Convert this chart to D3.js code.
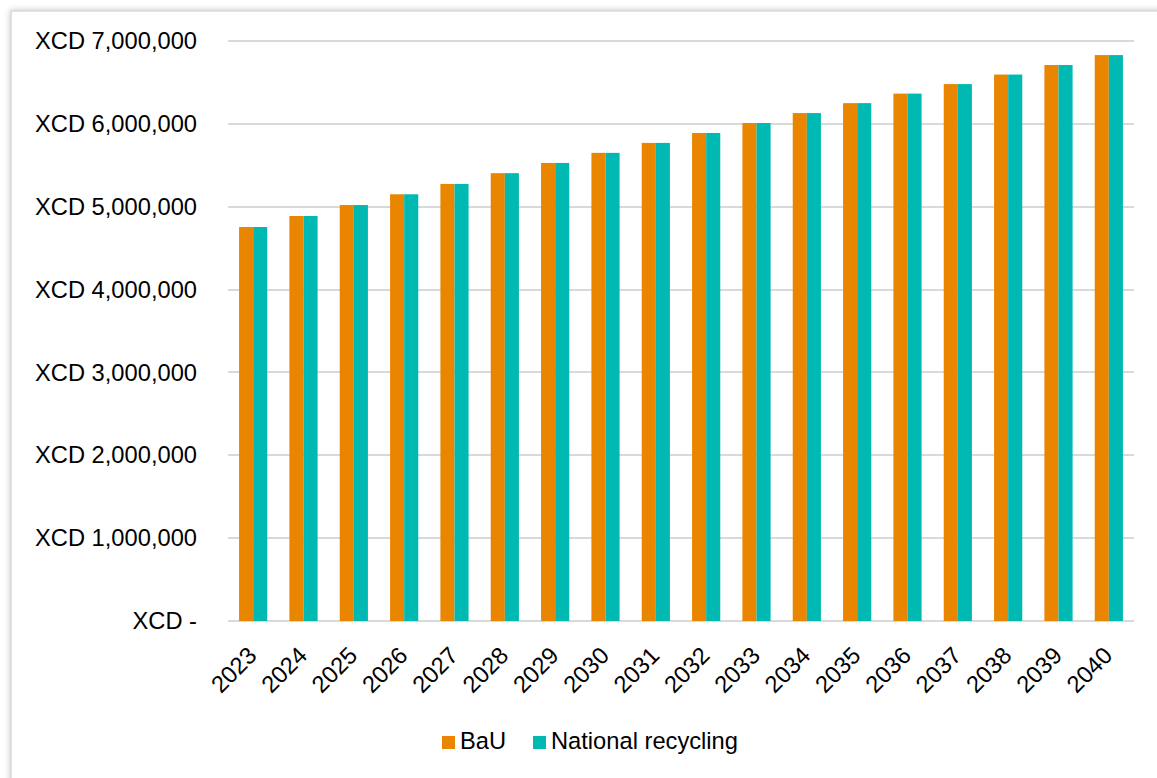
<!DOCTYPE html>
<html>
<head>
<meta http-equiv="Content-Type" content="text/html;charset=utf-8">
<script src="https://d3js.org/d3.v7.min.js"></script>
<style>
  body { margin: 0; background: #fff; }
  text { font-family: "Liberation Sans", Arial, sans-serif; fill: #000; }
</style>
</head>
<body>
<svg id="chart" width="1157" height="778"></svg>
<script type="text/javascript">

// data
var years = ["2023","2024","2025","2026","2027","2028","2029","2030","2031",
             "2032","2033","2034","2035","2036","2037","2038","2039","2040"];
var bau = [4755000, 4888000, 5020000, 5150000, 5275000, 5405000, 5528000, 5650000, 5770000,
           5890000, 6010000, 6130000, 6250000, 6365000, 6480000, 6595000, 6710000, 6830000];
var recycling = [4755000, 4888000, 5020000, 5150000, 5275000, 5405000, 5528000, 5650000, 5770000,
                 5890000, 6010000, 6130000, 6250000, 6365000, 6480000, 6595000, 6710000, 6830000];
var seriesNames = ["BaU", "National recycling"];
var colors = ["#EA8500", "#00B9B2"];
var yTicks = [0, 1000000, 2000000, 3000000, 4000000, 5000000, 6000000, 7000000];

var svg = d3.select("#chart");
var fontSize = "23.7px";

// outer frame with soft shadow
var defs = svg.append("defs");
var f = defs.append("filter").attr("id", "shadow").attr("x", "-5%").attr("y", "-5%")
  .attr("width", "110%").attr("height", "110%");
f.append("feDropShadow").attr("dx", 0).attr("dy", 0).attr("stdDeviation", 3)
  .attr("flood-color", "#000").attr("flood-opacity", 0.25);
svg.append("rect")
  .attr("x", 11).attr("y", 11).attr("width", 1170).attr("height", 800)
  .attr("fill", "#fff").attr("stroke", "#c8c8c8").attr("stroke-width", 1)
  .attr("filter", "url(#shadow)");

var plotL = 228, plotR = 1134, plotT = 41, plotB = 621;

var y = d3.scaleLinear().domain([0, 7000000]).range([plotB, plotT]);
var x = d3.scaleBand().domain(years).range([plotL, plotR]).paddingInner(0.44).paddingOuter(0.22);
var xs = d3.scaleBand().domain([0, 1]).range([0, x.bandwidth()]);

// gridlines
svg.append("g").selectAll("line").data(yTicks).join("line")
  .attr("x1", plotL).attr("x2", plotR)
  .attr("y1", function(d) { return Math.round(y(d)); })
  .attr("y2", function(d) { return Math.round(y(d)); })
  .attr("stroke", "#d9d9d9").attr("stroke-width", 2);

// y axis
var fmt = d3.format(",");
var yAxis = d3.axisLeft(y).tickValues(yTicks).tickSize(0).tickPadding(31)
  .tickFormat(function(d) { return d === 0 ? "XCD -" : "XCD " + fmt(d); });
var gy = svg.append("g").attr("transform", "translate(" + plotL + ",0)").call(yAxis);
gy.select(".domain").remove();
gy.selectAll("text").style("font-size", fontSize).style("font-family", "Liberation Sans, Arial, sans-serif");

// bars
var groups = svg.append("g").selectAll("g").data(years).join("g")
  .attr("transform", function(d) { return "translate(" + x(d) + ",0)"; });
groups.selectAll("rect").data(function(d, i) { return [bau[i], recycling[i]]; }).join("rect")
  .attr("x", function(d, j) { return xs(j); })
  .attr("y", function(d) { return y(d); })
  .attr("width", xs.bandwidth())
  .attr("height", function(d) { return y(0) - y(d); })
  .attr("fill", function(d, j) { return colors[j]; });

// x axis
var xAxis = d3.axisBottom(x).tickSize(0).tickPadding(0);
var gx = svg.append("g").attr("transform", "translate(0," + plotB + ")").call(xAxis);
gx.select(".domain").remove();
gx.selectAll("text")
  .style("font-size", fontSize).style("font-family", "Liberation Sans, Arial, sans-serif")
  .attr("text-anchor", "end").attr("dy", null).attr("y", 0)
  .attr("transform", "translate(5,36) rotate(-45)");

// legend
var legend = svg.append("g");
var lx = [442, 533];
seriesNames.forEach(function(name, i) {
  legend.append("rect").attr("x", lx[i]).attr("y", 736).attr("width", 13).attr("height", 13)
    .attr("fill", colors[i]);
  legend.append("text").attr("x", lx[i] + 18).attr("y", 749)
    .style("font-size", fontSize).text(name);
});

</script>
</body>
</html>
